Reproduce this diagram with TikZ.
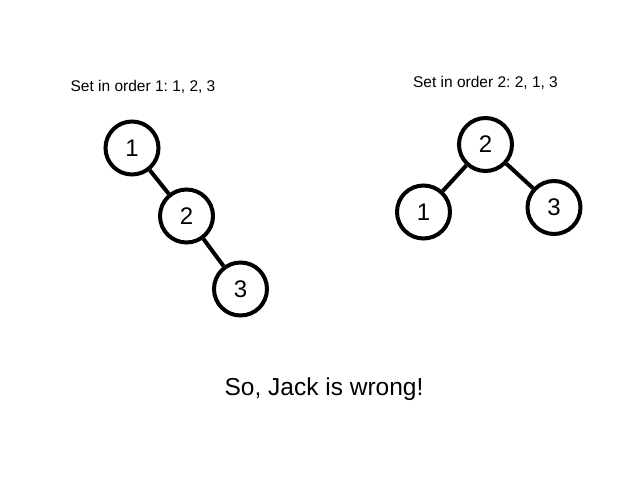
\documentclass[tikz,border=0pt]{standalone}
\usepackage{fontspec}
\setmainfont{Liberation Sans}
\usepackage{tikz}
\usetikzlibrary{arrows.meta}
\frenchspacing

\tikzset{
  treenode/.style={shape=circle,draw,line width=4pt,minimum size=53pt,inner sep=0pt,font=\fontsize{24}{24}\selectfont},
  edge/.style={line width=4pt},
  caption/.style={anchor=base,font=\fontsize{15.5}{15.5}\selectfont}
}

\begin{document}
\begin{tikzpicture}[x=1pt,y=-1pt]
\useasboundingbox(0,0)rectangle(640,480);
% order 1
\node[caption](capa)at(143,91){Set in order 1: 1, 2, 3};
\node[treenode](a1)at(132,148){1};
\node[treenode](a2)at(186.5,216){2};
\node[treenode](a3)at(240.5,289){3};
\draw[edge](a1)--(a2);
\draw[edge](a2)--(a3);
% order 2
\node[caption](capb)at(485.5,87){Set in order 2: 2, 1, 3};
\node[treenode](b2)at(485.5,144.5){2};
\node[treenode](b1)at(423.5,212){1};
\node[treenode](b3)at(554,207.5){3};
\draw[edge](b2)--(b1);
\draw[edge](b2)--(b3);
% verdict
\node[anchor=base,font=\fontsize{24.5}{24.5}\selectfont](verdict)at(324,395){So, Jack is wrong!};
\end{tikzpicture}
\end{document}
